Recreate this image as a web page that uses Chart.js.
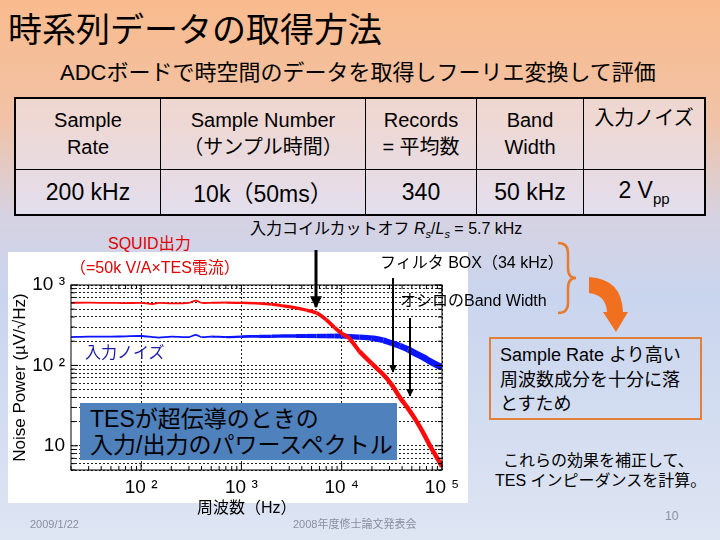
<!DOCTYPE html>
<html lang="ja">
<head>
<meta charset="UTF-8">
<title>時系列データの取得方法</title>
<script src="https://cdn.jsdelivr.net/npm/chart.js"></script>
<style>
  body { margin: 0; }
  #slide {
    position: relative; width: 720px; height: 540px; overflow: hidden;
    font-family: "Liberation Sans", "Noto Sans CJK JP", sans-serif; color: #000;
    background: linear-gradient(#f9bb8d 0%, #f1c2a6 22%, #d6d2e2 40%, #c9d5ee 55%, #dee5f3 100%);
  }
  .t { position: absolute; white-space: nowrap; line-height: 1; }
  table {
    position: absolute; left: 14px; top: 97px; width: 692px; height: 111px;
    border-collapse: collapse; border: 2px solid #000; background: rgba(236,234,248,0.55);
  }
  td { border: 1px solid #000; text-align: center; padding: 0; }
  tr.h td { height: 64px; font-size: 20px; line-height: 27px; vertical-align: middle; }
  tr.d td { height: 44px; font-size: 23px; }
  #plotbox { position: absolute; left: 8px; top: 252px; width: 460px; height: 251px; background: #fff; }
  #blue { position: absolute; left: 80px; top: 403px; width: 317px; height: 57px; background: #4f81bd;
          font-size: 23px; line-height: 26px; padding: 3px 0 0 10px; box-sizing: border-box; }
  #obox { position: absolute; left: 489px; top: 337px; width: 213px; height: 83px; border: 2px solid #e0803a;
          box-sizing: border-box; font-size: 18px; line-height: 24.5px; padding: 4px 0 0 9px; }
  .g { color: #8a8fa0; font-size: 11px; }
</style>
</head>
<body>
<div id="slide">
  <div class="t" style="left:8px;top:13px;font-size:34px;">時系列データの取得方法</div>
  <div class="t" style="left:60px;top:62px;font-size:22px;">ADCボードで時空間のデータを取得しフーリエ変換して評価</div>

  <table>
    <tr class="h">
      <td style="width:144px">Sample<br>Rate</td>
      <td style="width:204px">Sample Number<br>（サンプル時間）</td>
      <td style="width:110px">Records<br>= 平均数</td>
      <td style="width:106px">Band<br>Width</td>
      <td style="vertical-align:top;padding-top:6px;">入力ノイズ</td>
    </tr>
    <tr class="d">
      <td>200 kHz</td><td>10k（50ms）</td><td>340</td><td>50 kHz</td><td>2 V<sub style="font-size:15px">pp</sub></td>
    </tr>
  </table>

  <div id="plotbox"><canvas id="noiseChart" width="460" height="251"></canvas></div>

  <div id="blue">TESが超伝導のときの<br>入力/出力のパワースペクトル</div>

  <div class="t" style="left:108px;top:236px;font-size:16px;color:#e00000;">SQUID出力</div>
  <div class="t" style="left:70px;top:260px;font-size:16px;color:#e00000;">（=50k V/A×TES電流）</div>
  <div class="t" style="left:250px;top:221px;font-size:16px;">入力コイルカットオフ <i>R<sub style="font-size:11px">s</sub></i>/<i>L<sub style="font-size:11px">s</sub></i> = 5.7 kHz</div>
  <div class="t" style="left:380px;top:255px;font-size:16px;">フィルタ BOX（34 kHz）</div>
  <div class="t" style="left:400px;top:293px;font-size:16px;">オシロのBand Width</div>
  <div class="t" style="left:85px;top:345px;font-size:16px;color:#1a1aa8;">入力ノイズ</div>
  <div class="t" style="left:197px;top:500px;font-size:16px;">周波数（Hz）</div>

  <div id="obox">Sample Rate より高い<br>周波数成分を十分に落<br>とすため</div>
  <div class="t" style="left:503px;top:453px;font-size:16px;">これらの効果を補正して、</div>
  <div class="t" style="left:495px;top:473px;font-size:16px;">TES インピーダンスを計算。</div>

  <div class="t g" style="left:665px;top:510px;font-size:12px;">10</div>
  <div class="t g" style="left:30px;top:519px;">2009/1/22</div>
  <div class="t g" style="left:293px;top:519px;">2008年度修士論文発表会</div>

  <svg width="720" height="540" style="position:absolute;left:0;top:0;pointer-events:none;">
    <defs>
      <marker id="ah" viewBox="0 0 10 10" refX="9" refY="5" markerWidth="4" markerHeight="4" orient="auto">
        <path d="M0,0 L10,5 L0,10 z" fill="#000"/>
      </marker>
    </defs>
    <line x1="316" y1="250" x2="316" y2="307" stroke="#000" stroke-width="3" marker-end="url(#ah)"/>
    <line x1="393" y1="278" x2="393" y2="372" stroke="#000" stroke-width="2" marker-end="url(#ah)"/>
    <line x1="410" y1="318" x2="410" y2="396" stroke="#000" stroke-width="2" marker-end="url(#ah)"/>
    <path d="M558,243 Q568,243 568,253 L568,268 Q568,278 576,278 Q568,278 568,288 L568,303 Q568,313 558,313"
          fill="none" stroke="#e87a2e" stroke-width="2.5"/>
    <path d="M589,277 Q622,279 623,312 L628,312 L616,332 L603,312 L607,312 Q606,295 589,293 Z" fill="#f07020"/>
  </svg>
</div>

<script>
  // 周波数 (Hz) と雑音パワー (µV/√Hz)
  const freq = [20, 30, 50, 70, 100, 130, 150, 200, 300, 350, 400, 500, 700, 1000, 1500, 2000, 2600, 3500,
                4500, 5600, 7000, 8500, 10000, 12000, 15000, 20000, 26000, 32000, 38000, 46000, 56000,
                66000, 76000, 88000, 100000];
  const squidOut = [600, 605, 600, 595, 600, 580, 600, 590, 600, 640, 600, 600, 605, 600, 590, 575, 550, 520,
                    485, 450, 370, 295, 250, 215, 150, 105, 77, 56, 40, 29, 20, 14, 10, 7.3, 5.5];
  const inputNoise = [225, 228, 228, 230, 232, 225, 222, 228, 225, 240, 225, 228, 225, 228, 230, 230, 232, 232,
                      232, 232, 232, 232, 232, 228, 225, 218, 205, 188, 175, 158, 138, 125, 112, 102, 95];
  const xDecades = [100, 1000, 10000, 100000];
  const xLabels = ['10 ²', '10 ³', '10 ⁴', '10 ⁵'];
  const yDecades = [10, 100, 1000];
  const yLabels = ['10', '10 ²', '10 ³'];

  // 1,2,...,9 × 10^n の目盛り
  function logTicks(min, max) {
    const out = [];
    for (let e = -1; e <= 6; e++) {
      for (let m = 1; m <= 9; m++) {
        const v = m * Math.pow(10, e);
        if (v >= min - 1e-9 && v <= max + 1e-9) out.push(v);
      }
    }
    return out;
  }
  const isMajor = (v, list) => list.some(d => Math.abs(v - d) < 1e-6 * d);

  const framePlugin = {
    id: 'frame',
    afterDraw(chart) {
      const { ctx, chartArea: a, scales } = chart;
      ctx.save();
      ctx.strokeStyle = '#000';
      ctx.lineWidth = 1;
      ctx.strokeRect(a.left, a.top, a.right - a.left, a.bottom - a.top);
      ctx.beginPath();
      scales.x.ticks.forEach(t => {
        const px = scales.x.getPixelForValue(t.value);
        const len = isMajor(t.value, xDecades) ? 7 : 4;
        ctx.moveTo(px, a.bottom); ctx.lineTo(px, a.bottom - len);
        ctx.moveTo(px, a.top); ctx.lineTo(px, a.top + len);
      });
      scales.y.ticks.forEach(t => {
        const py = scales.y.getPixelForValue(t.value);
        const len = isMajor(t.value, yDecades) ? 7 : 4;
        ctx.moveTo(a.left, py); ctx.lineTo(a.left + len, py);
        ctx.moveTo(a.right, py); ctx.lineTo(a.right - len, py);
      });
      ctx.stroke();
      ctx.restore();
    }
  };

  // 高周波ほど線を太く（ノイズ帯の見た目）
  const widthBy = (base, gain, cap) => c => {
    const lf = Math.log10(c.p0.parsed.x);
    return Math.min(cap, base + gain * Math.max(0, lf - 2.6));
  };

  new Chart(document.getElementById('noiseChart'), {
    type: 'line',
    data: {
      datasets: [{
        label: 'SQUID出力',
        data: freq.map((f, i) => ({ x: f, y: squidOut[i] })),
        borderColor: '#ff0a0a',
        borderWidth: 2,
        segment: { borderWidth: widthBy(1.8, 1.6, 4.5) },
        pointRadius: 0,
        tension: 0.25
      }, {
        label: '入力ノイズ',
        data: freq.map((f, i) => ({ x: f, y: inputNoise[i] })),
        borderColor: '#0a14ff',
        borderWidth: 2,
        segment: { borderWidth: widthBy(1.8, 2.3, 6.5) },
        pointRadius: 0,
        tension: 0.25
      }]
    },
    options: {
      responsive: false,
      animation: false,
      layout: { padding: { top: 33, right: 26, bottom: 0, left: 0 } },
      plugins: { legend: { display: false }, tooltip: { enabled: false } },
      scales: {
        x: {
          type: 'logarithmic', min: 20, max: 100000,
          afterBuildTicks: s => { s.ticks = logTicks(20, 100000).map(v => ({ value: v })); },
          afterFit: s => { s.height = 33; },
          ticks: {
            autoSkip: false, maxRotation: 0, padding: 6, color: '#000',
            font: { family: 'Liberation Sans', size: 19 },
            callback: v => { const i = xDecades.findIndex(d => Math.abs(v - d) < 1e-6 * d); return i >= 0 ? xLabels[i] : ''; }
          },
          grid: {
            drawTicks: false,
            color: c => (c.tick && isMajor(c.tick.value, xDecades)) ? '#222' : 'rgba(0,0,0,0)',
            lineWidth: 1
          },
          border: { display: false, dash: [2, 2] }
        },
        y: {
          type: 'logarithmic', min: 5, max: 1000,
          afterBuildTicks: s => { s.ticks = logTicks(5, 1000).map(v => ({ value: v })); },
          afterFit: s => { s.width = 63; },
          ticks: {
            autoSkip: false, padding: 6, color: '#000',
            font: { family: 'Liberation Sans', size: 19 },
            callback: v => { const i = yDecades.findIndex(d => Math.abs(v - d) < 1e-6 * d); return i >= 0 ? yLabels[i] : ''; }
          },
          title: {
            display: true, text: 'Noise Power (µV/√Hz)', color: '#000',
            font: { family: 'Liberation Sans', size: 17 }, padding: { top: 2, bottom: 0 }
          },
          grid: { drawTicks: false, color: '#222', lineWidth: 1 },
          border: { display: false, dash: [2, 2] }
        }
      }
    },
    plugins: [framePlugin]
  });
</script>
</body>
</html>
